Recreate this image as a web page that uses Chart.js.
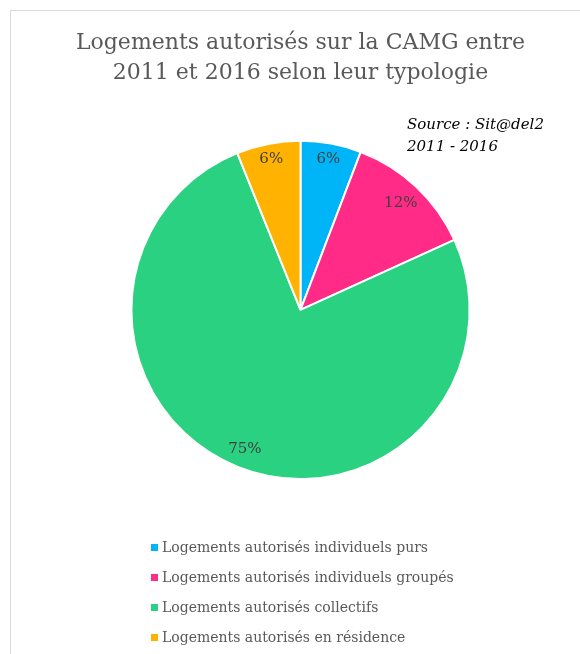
<!DOCTYPE html>
<html>
<head>
<meta charset="utf-8">
<script src="https://cdn.jsdelivr.net/npm/chart.js@4/dist/chart.umd.min.js"></script>
<style>
  html, body { margin: 0; padding: 0; background: #ffffff; }
  #wrap { position: relative; width: 580px; height: 654px; overflow: hidden; }
  #frame { position: absolute; left: 10px; top: 10px; width: 600px; height: 700px;
           border: 1.5px solid #d9d9d9; box-sizing: border-box; }
  #c { position: absolute; left: 0; top: 0; }
  #source { position: absolute; left: 407px; top: 113px; font-family: "DejaVu Serif", serif;
            font-style: italic; font-size: 15px; line-height: 22px; color: #000; }
  #legend { position: absolute; left: 151px; top: 532px; font-family: "DejaVu Serif", serif;
            font-size: 14px; color: #595959; }
  .item { height: 30px; display: flex; align-items: center; }
  .box { width: 7px; height: 7px; margin-right: 4px; }
</style>
</head>
<body>
<div id="wrap">
  <div id="frame"></div>
  <canvas id="c" width="580" height="654"></canvas>
  <div id="source">Source : Sit@del2<br>2011 - 2016</div>
  <div id="legend"></div>
</div>
<script>
const titleLines = ["Logements autorisés sur la CAMG entre", "2011 et 2016 selon leur typologie"];
const categories = [
  "Logements autorisés individuels purs",
  "Logements autorisés individuels groupés",
  "Logements autorisés collectifs",
  "Logements autorisés en résidence"
];
const shares = [5.8, 12.4, 75.7, 6.1];
const percentLabels = ["6%", "12%", "75%", "6%"];
const colors = ["#00b4f8", "#ff2b86", "#2ad180", "#ffb300"];

const FONT = "DejaVu Serif";

const insideEndLabels = {
  id: 'insideEndLabels',
  afterDatasetsDraw(chart) {
    const ctx = chart.ctx;
    const meta = chart.getDatasetMeta(0);
    ctx.save();
    ctx.font = "15px '" + FONT + "'";
    ctx.fillStyle = "#404040";
    ctx.textAlign = "center";
    ctx.textBaseline = "middle";
    meta.data.forEach((arc, i) => {
      const p = arc.getProps(['x', 'y', 'startAngle', 'endAngle', 'outerRadius'], true);
      const mid = (p.startAngle + p.endAngle) / 2;
      const txt = percentLabels[i];
      const w = ctx.measureText(txt).width;
      const h = 17;
      const th = mid + Math.PI / 2;
      const off = Math.abs(Math.sin(th)) * w / 2 + Math.abs(Math.cos(th)) * h / 2 + 5;
      const r = p.outerRadius - off;
      ctx.fillText(txt, p.x + Math.cos(mid) * r, p.y + Math.sin(mid) * r);
    });
    ctx.restore();
  }
};

const chart = new Chart(document.getElementById('c'), {
  type: 'pie',
  data: {
    labels: categories,
    datasets: [{
      data: shares,
      backgroundColor: colors,
      borderColor: '#ffffff',
      borderWidth: 2
    }]
  },
  options: {
    responsive: false,
    animation: false,
    layout: { padding: { left: 21, right: 0, top: 10, bottom: 174 } },
    plugins: {
      legend: { display: false },
      tooltip: { enabled: false },
      title: {
        display: true,
        text: titleLines,
        color: '#595959',
        font: { family: FONT, size: 22, weight: 'normal', lineHeight: 1.36 },
        padding: { top: 18, bottom: 52 }
      }
    }
  },
  plugins: [insideEndLabels]
});

const leg = document.getElementById('legend');
categories.forEach((c, i) => {
  const d = document.createElement('div');
  d.className = 'item';
  const b = document.createElement('span');
  b.className = 'box';
  b.style.background = colors[i];
  const t = document.createElement('span');
  t.textContent = c;
  d.appendChild(b); d.appendChild(t);
  leg.appendChild(d);
});
</script>
</body>
</html>
